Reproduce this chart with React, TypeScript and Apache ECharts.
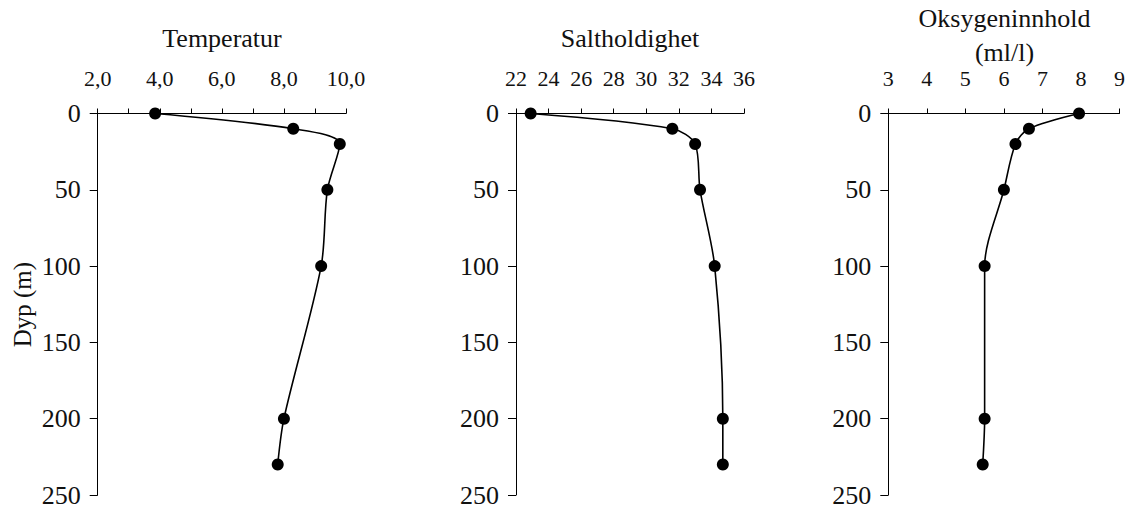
import React, { useEffect, useRef } from "react";
import * as echarts from "echarts";

const depths = [0, 10, 20, 50, 100, 200, 230];
const temperature = [3.85, 8.3, 9.8, 9.4, 9.2, 8.0, 7.8];
const salinity = [22.9, 31.6, 33.0, 33.3, 34.2, 34.7, 34.7];
const oxygen = [7.95, 6.65, 6.3, 6.0, 5.5, 5.5, 5.45];

const panelTitles = ["Temperatur", "Saltholdighet", "Oksygeninnhold", "(ml/l)"];
const depthLabel = "Dyp (m)";

const FONT = "Liberation Serif";

export default function App() {
  const ref = useRef<HTMLDivElement>(null);

  useEffect(() => {
    if (!ref.current) return;
    const chart = echarts.init(ref.current, undefined, { renderer: "svg" });

    const grids = [
      { left: 97.7, top: 113.5, width: 248.3, height: 382.2 },
      { left: 516, top: 113.5, width: 228, height: 382.2 },
      { left: 888.3, top: 113.5, width: 231.7, height: 382.2 },
    ];

    const xRanges = [
      { min: 2, max: 10, interval: 1, fmt: (v: number) => (Math.round(v) % 2 === 0 ? v.toFixed(1).replace(".", ",") : "") },
      { min: 22, max: 36, interval: 2, fmt: (v: number) => String(v) },
      { min: 3, max: 9, interval: 1, fmt: (v: number) => String(v) },
    ];

    const seriesData = [temperature, salinity, oxygen];

    const lineColor = "#000";
    const textColor = "#111";

    const option: any = {
      animation: false,
      backgroundColor: "#fff",
      grid: grids.map((g) => ({ ...g, containLabel: false })),
      xAxis: xRanges.map((r, i) => ({
        type: "value",
        gridIndex: i,
        position: "top",
        min: r.min,
        max: r.max,
        interval: r.interval,
        axisLine: { show: true, onZero: false, lineStyle: { color: lineColor, width: 1 } },
        axisTick: { show: true, length: 5, lineStyle: { color: lineColor, width: 1 } },
        splitLine: { show: false },
        axisLabel: {
          show: true,
          margin: 24,
          fontFamily: FONT,
          fontSize: 22,
          color: textColor,
          formatter: r.fmt,
        },
      })),
      yAxis: grids.map((_, i) => ({
        type: "value",
        gridIndex: i,
        inverse: true,
        min: 0,
        max: 250,
        interval: 50,
        axisLine: { show: true, onZero: false, lineStyle: { color: lineColor, width: 1 } },
        axisTick: { show: true, length: 8, lineStyle: { color: lineColor, width: 1 } },
        splitLine: { show: false },
        axisLabel: {
          show: true,
          margin: 17,
          fontFamily: FONT,
          fontSize: 26,
          color: textColor,
        },
      })),
      series: seriesData.map((vals, i) => ({
        type: "line",
        xAxisIndex: i,
        yAxisIndex: i,
        data: vals.map((v, j) => [v, depths[j]]),
        smooth: 0.3,
        symbol: "circle",
        symbolSize: 12,
        showAllSymbol: true,
        lineStyle: { color: "#000", width: 1.6 },
        itemStyle: { color: "#000" },
        z: 3,
      })),
      graphic: [
        {
          type: "text",
          x: 222,
          y: 38.3,
          style: { text: panelTitles[0], fontFamily: FONT, fontSize: 26, fill: textColor, textAlign: "center", textVerticalAlign: "middle" },
        },
        {
          type: "text",
          x: 630,
          y: 38,
          style: { text: panelTitles[1], fontFamily: FONT, fontSize: 26, fill: textColor, textAlign: "center", textVerticalAlign: "middle" },
        },
        {
          type: "text",
          x: 1004.5,
          y: 18.3,
          style: { text: panelTitles[2], fontFamily: FONT, fontSize: 26, fill: textColor, textAlign: "center", textVerticalAlign: "middle" },
        },
        {
          type: "text",
          x: 1004.5,
          y: 52.3,
          style: { text: panelTitles[3], fontFamily: FONT, fontSize: 26, fill: textColor, textAlign: "center", textVerticalAlign: "middle" },
        },
        {
          type: "text",
          x: 22,
          y: 304.6,
          rotation: Math.PI / 2,
          style: { text: depthLabel, fontFamily: FONT, fontSize: 25, fill: textColor, textAlign: "center", textVerticalAlign: "middle" },
        },
      ],
    };

    chart.setOption(option);
    return () => chart.dispose();
  }, []);

  return (
    <div
      ref={ref}
      style={{ position: "absolute", left: 0, top: 0, width: 1128, height: 508, background: "#fff" }}
    />
  );
}
